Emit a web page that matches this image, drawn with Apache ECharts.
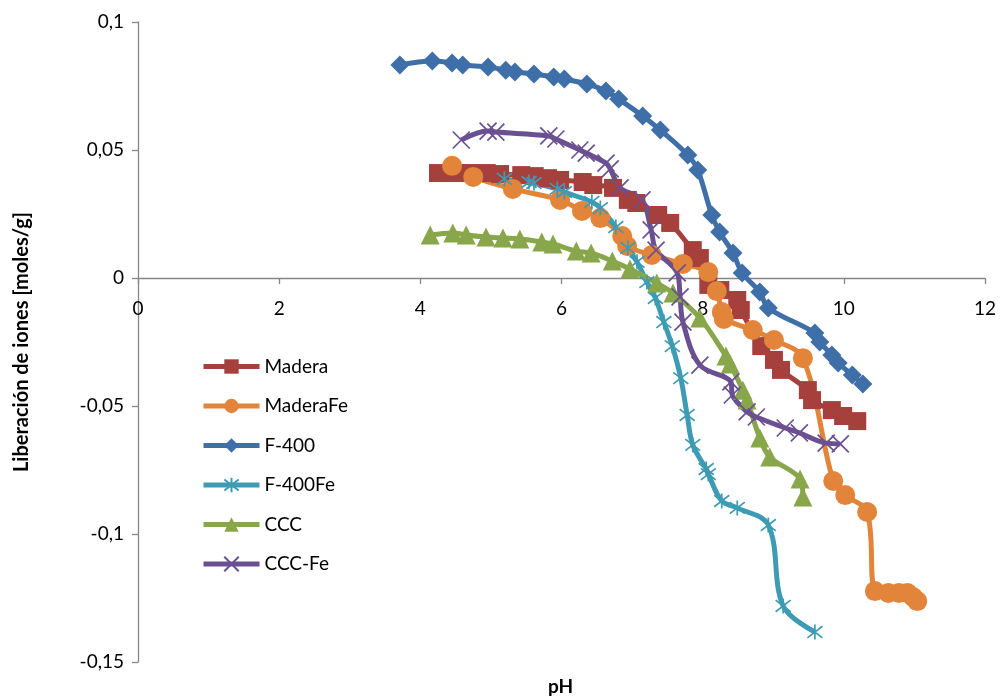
<!DOCTYPE html>
<html>
<head>
<meta charset="utf-8">
<script src="https://cdn.jsdelivr.net/npm/echarts@6/dist/echarts.min.js"></script>
<style>
  html, body { margin: 0; padding: 0; background: #fff; }
  #chart { width: 1000px; height: 697px; }
</style>
</head>
<body>
<div id="chart"></div>
<script>
// Ion release vs pH, one [pH, value] list per material
const seriesNames = ['Madera', 'MaderaFe', 'F-400', 'F-400Fe', 'CCC', 'CCC-Fe'];

const madera = [
  [4.25, 0.0410], [4.49, 0.0410], [4.72, 0.0410], [4.94, 0.0410], [5.13, 0.0406],
  [5.43, 0.0402], [5.62, 0.0398], [5.81, 0.0390], [5.98, 0.0383], [6.30, 0.0375],
  [6.45, 0.0363], [6.73, 0.0352], [6.94, 0.0305], [7.06, 0.0293], [7.37, 0.0246],
  [7.54, 0.0215], [7.86, 0.0109], [7.96, 0.0078], [8.08, -0.0027], [8.25, -0.0047],
  [8.49, -0.0086], [8.54, -0.0125], [8.83, -0.0266], [9.01, -0.0320], [9.11, -0.0359],
  [9.49, -0.0438], [9.55, -0.0477], [9.83, -0.0516], [9.99, -0.0539], [10.19, -0.0559]
];

const maderaFe = [
  [4.45, 0.0438], [4.75, 0.0395], [5.31, 0.0348], [5.98, 0.0305], [6.29, 0.0262],
  [6.55, 0.0234], [6.86, 0.0164], [6.93, 0.0125], [7.28, 0.0090], [7.72, 0.0055],
  [8.08, 0.0023], [8.20, -0.0051], [8.27, -0.0133], [8.30, -0.0160], [8.71, -0.0203],
  [9.01, -0.0242], [9.42, -0.0313], [9.85, -0.0793], [10.02, -0.0848], [10.33, -0.0914],
  [10.44, -0.1223], [10.63, -0.1230], [10.78, -0.1230], [10.90, -0.1230], [10.98, -0.1246],
  [11.04, -0.1262]
];

const f400 = [
  [3.71, 0.0832], [4.17, 0.0848], [4.45, 0.0840], [4.60, 0.0832], [4.96, 0.0824],
  [5.21, 0.0812], [5.34, 0.0805], [5.61, 0.0797], [5.89, 0.0785], [6.04, 0.0777],
  [6.36, 0.0758], [6.63, 0.0730], [6.81, 0.0699], [7.15, 0.0633], [7.40, 0.0578],
  [7.79, 0.0480], [7.93, 0.0422], [8.13, 0.0246], [8.24, 0.0180], [8.43, 0.0098],
  [8.56, 0.0020], [8.81, -0.0055], [8.93, -0.0117], [9.59, -0.0215], [9.66, -0.0250],
  [9.83, -0.0301], [9.92, -0.0332], [10.12, -0.0379], [10.27, -0.0414]
];

const f400Fe = [
  [5.19, 0.0387], [5.54, 0.0375], [5.61, 0.0371], [5.94, 0.0348], [6.04, 0.0336],
  [6.43, 0.0297], [6.55, 0.0273], [6.77, 0.0199], [6.94, 0.0117], [7.07, 0.0063],
  [7.21, -0.0016], [7.33, -0.0078], [7.45, -0.0172], [7.57, -0.0266], [7.69, -0.0391],
  [7.78, -0.0535], [7.86, -0.0652], [8.05, -0.0746], [8.08, -0.0766], [8.27, -0.0871],
  [8.49, -0.0898], [8.93, -0.0965], [9.14, -0.1281], [9.59, -0.1383]
];

const ccc = [
  [4.14, 0.0168], [4.46, 0.0176], [4.65, 0.0168], [4.93, 0.0160], [5.17, 0.0156],
  [5.41, 0.0152], [5.72, 0.0141], [5.88, 0.0133], [6.21, 0.0105], [6.42, 0.0098],
  [6.72, 0.0066], [6.97, 0.0035], [7.35, -0.0020], [7.58, -0.0059], [7.96, -0.0156],
  [8.33, -0.0305], [8.39, -0.0336], [8.57, -0.0438], [8.63, -0.0477], [8.81, -0.0625],
  [8.95, -0.0699], [9.38, -0.0785], [9.42, -0.0855]
];

const cccFe = [
  [4.58, 0.0539], [4.96, 0.0574], [5.07, 0.0570], [5.82, 0.0555], [5.92, 0.0543],
  [6.26, 0.0500], [6.35, 0.0488], [6.63, 0.0449], [6.69, 0.0426], [6.83, 0.0352],
  [7.14, 0.0305], [7.27, 0.0188], [7.34, 0.0109], [7.64, 0.0020], [7.68, -0.0074],
  [7.72, -0.0172], [7.96, -0.0340], [8.40, -0.0406], [8.42, -0.0457], [8.63, -0.0523],
  [8.76, -0.0543], [9.17, -0.0586], [9.37, -0.0605], [9.75, -0.0645], [9.95, -0.0648]
];

const xTicks = { min: 0, max: 12, step: 2 };
const yTicks = { min: -0.15, max: 0.1, step: 0.05 };
const xTitle = 'pH';
const yTitle = 'Liberación de iones [moles/g]';

const FONT = 'Lato, "Liberation Sans", sans-serif';
const AXIS_GREY = '#868686';

const colors = {
  madera: '#A6403C',
  maderaFe: '#E2843A',
  f400: '#3F6FA8',
  f400Fe: '#3D9CB4',
  ccc: '#88A64A',
  cccFe: '#6B5091'
};

// plot area
const W = 1000, H = 697;
const gridBox = { left: 138, right: 15, top: 22, bottom: 35 };
const plotHeight = H - gridBox.top - gridBox.bottom;
// lift the x axis from the bottom edge up to y = 0
const xAxisLift = plotHeight * (0 - yTicks.min) / (yTicks.max - yTicks.min);

// stroke-only marker shapes
const asteriskPath = 'path://M0,0L10,10M10,0L0,10M5,-1.5L5,11.5';
const crossPath = 'path://M0,0L10,10M10,0L0,10';

function lineSeries(name, data, color, symbol, size, strokeMarker) {
  return {
    name: name,
    type: 'line',
    data: data,
    smooth: 0.35,
    symbol: symbol,
    symbolSize: size,
    showAllSymbol: true,
    lineStyle: { color: color, width: 5 },
    itemStyle: strokeMarker
      ? { color: color, borderColor: color, borderWidth: 1.7, opacity: 1 }
      : { color: color, borderWidth: 0 },
    emphasis: { disabled: true },
    animation: false
  };
}

const chart = echarts.init(document.getElementById('chart'), null, { renderer: 'canvas' });

chart.setOption({
  backgroundColor: '#ffffff',
  textStyle: { fontFamily: FONT },
  grid: { left: gridBox.left, right: gridBox.right, top: gridBox.top, bottom: gridBox.bottom, containLabel: false },
  legend: {
    orient: 'vertical',
    left: 196,
    top: 352,
    itemWidth: 56,
    itemHeight: 18,
    itemGap: 20.5,
    lineStyle: { width: 5 },
    textStyle: { fontFamily: FONT, fontSize: 19, color: '#000' },
    data: seriesNames
  },
  graphic: [
    {
      type: 'text',
      left: 548,
      top: 677,
      style: { text: xTitle, font: 'bold 19px ' + FONT, fill: '#000' }
    }
  ],
  xAxis: {
    type: 'value',
    min: xTicks.min,
    max: xTicks.max,
    interval: xTicks.step,
    offset: -xAxisLift,
    axisLine: { onZero: false, lineStyle: { color: AXIS_GREY, width: 1.3 } },
    axisTick: { show: true, length: 6, lineStyle: { color: AXIS_GREY, width: 1.3 } },
    axisLabel: { fontFamily: FONT, fontSize: 19, color: '#000', margin: 21 },
    splitLine: { show: false }
  },
  yAxis: {
    type: 'value',
    min: yTicks.min,
    max: yTicks.max,
    interval: yTicks.step,
    name: yTitle,
    nameLocation: 'middle',
    nameGap: 106,
    nameTextStyle: { fontFamily: FONT, fontSize: 20, fontWeight: 'bold', color: '#000' },
    axisLine: { show: true, onZero: false, lineStyle: { color: AXIS_GREY, width: 1.3 } },
    axisTick: { show: true, length: 6, lineStyle: { color: AXIS_GREY, width: 1.3 } },
    axisLabel: {
      fontFamily: FONT,
      fontSize: 19,
      color: '#000',
      margin: 14,
      formatter: function (v) {
        const r = Math.round(v * 100) / 100;
        return String(r).replace('.', ',');
      }
    },
    splitLine: { show: false }
  },
  series: [
    lineSeries('Madera', madera, colors.madera, 'rect', 18, false),
    lineSeries('MaderaFe', maderaFe, colors.maderaFe, 'circle', 20, false),
    lineSeries('F-400', f400, colors.f400, 'diamond', 19, false),
    lineSeries('F-400Fe', f400Fe, colors.f400Fe, asteriskPath, 15, true),
    lineSeries('CCC', ccc, colors.ccc, 'triangle', 19, false),
    lineSeries('CCC-Fe', cccFe, colors.cccFe, crossPath, 17, true)
  ]
});
</script>
</body>
</html>
